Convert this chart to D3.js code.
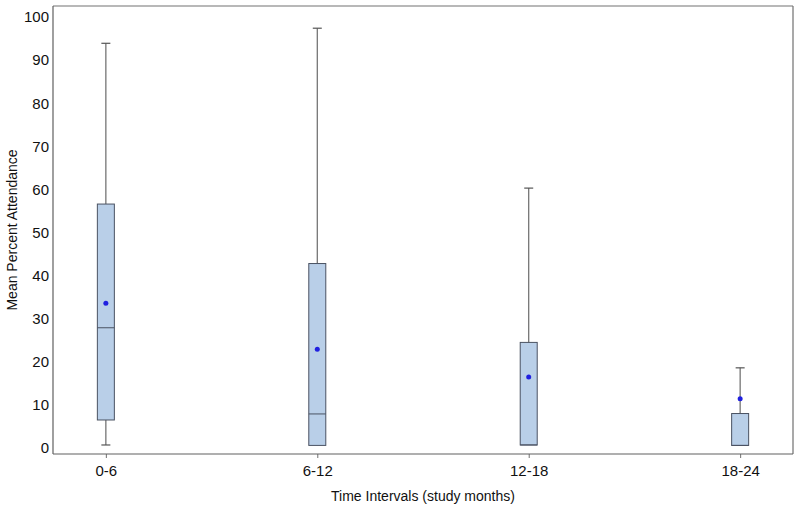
<!DOCTYPE html>
<html>
<head>
<meta charset="utf-8">
<script src="https://cdn.jsdelivr.net/npm/d3@7"></script>
<style>
  body { margin: 0; background: #fff; }
  text { font-family: "Liberation Sans", Arial, sans-serif; fill: #111; }
</style>
</head>
<body>
<svg id="chart" width="800" height="511"></svg>
<script>
// values
var intervals = ["0-6", "6-12", "12-18", "18-24"];
var whiskerLow = [0.7, 0.6, 0.7, 0.6];
var q1 = [6.5, 0.6, 0.7, 0.6];
var median = [27.9, 7.9, 0.7, 0.6];
var q3 = [56.6, 42.8, 24.5, 8.0];
var whiskerHigh = [93.9, 97.4, 60.3, 18.6];
var means = [33.6, 22.9, 16.5, 11.4];
var yTicks = [0, 10, 20, 30, 40, 50, 60, 70, 80, 90, 100];

var svg = d3.select("#chart");
// note: "top" is taken by window.top, so use plot* names
var plotLeft = 53, plotRight = 793, plotTop = 6, plotBottom = 454;

var x = d3.scalePoint().domain(intervals).range([plotLeft, plotRight]).padding(0.25);
// 0 sits a little above the frame bottom
var y = d3.scaleLinear().domain([0, 100]).range([448, 17]);

var boxW = 17, capW = 9;

var rows = intervals.map(function (d, i) {
    return { name: d, lo: whiskerLow[i], q1: q1[i], med: median[i], q3: q3[i], hi: whiskerHigh[i], mean: means[i] };
});

// frame
svg.append("line").attr("x1", plotLeft).attr("x2", plotRight).attr("y1", plotTop).attr("y2", plotTop)
    .style("stroke", "#a0a0a0").style("stroke-width", 1.5);
svg.append("line").attr("x1", plotRight).attr("x2", plotRight).attr("y1", plotTop).attr("y2", plotBottom)
    .style("stroke", "#707070").style("stroke-width", 1.2);

// y axis, no tick marks
var yAxis = svg.append("g").attr("transform", "translate(" + plotLeft + ",0)")
    .call(d3.axisLeft(y).tickValues(yTicks).tickSize(0).tickPadding(4));
yAxis.select(".domain").remove();
yAxis.selectAll("text").style("font-size", "15px").style("fill", "#111")
    .style("font-family", "'Liberation Sans', Arial, sans-serif");
svg.append("line").attr("x1", plotLeft).attr("x2", plotLeft).attr("y1", plotTop).attr("y2", plotBottom)
    .style("stroke", "#606060").style("stroke-width", 1.2);

// x axis
var xAxis = svg.append("g").attr("transform", "translate(0," + plotBottom + ")")
    .call(d3.axisBottom(x).tickSize(4).tickPadding(7));
xAxis.select(".domain").remove();
xAxis.selectAll(".tick line").style("stroke", "#707070");
xAxis.selectAll("text").style("font-size", "15px").style("fill", "#111")
    .style("font-family", "'Liberation Sans', Arial, sans-serif");
svg.append("line").attr("x1", plotLeft).attr("x2", plotRight).attr("y1", plotBottom).attr("y2", plotBottom)
    .style("stroke", "#606060").style("stroke-width", 1.2);

// axis titles
svg.append("text")
    .attr("x", (plotLeft + plotRight) / 2)
    .attr("y", 501)
    .style("text-anchor", "middle")
    .style("font-size", "14px")
    .text("Time Intervals (study months)");

svg.append("text")
    .attr("transform", "translate(17," + (plotTop + plotBottom) / 2 + ") rotate(-90)")
    .style("text-anchor", "middle")
    .style("font-size", "14px")
    .text("Mean Percent Attendance");

// boxes
var g = svg.selectAll(".box").data(rows).enter().append("g").attr("class", "box");

g.append("line")
    .attr("x1", function (d) { return x(d.name); })
    .attr("x2", function (d) { return x(d.name); })
    .attr("y1", function (d) { return y(d.q3); })
    .attr("y2", function (d) { return y(d.hi); })
    .style("stroke", "#6a6a6a").style("stroke-width", 1.2);

g.append("line")
    .attr("x1", function (d) { return x(d.name); })
    .attr("x2", function (d) { return x(d.name); })
    .attr("y1", function (d) { return y(d.q1); })
    .attr("y2", function (d) { return y(d.lo); })
    .style("stroke", "#6a6a6a").style("stroke-width", 1.2);

g.append("line")
    .attr("x1", function (d) { return x(d.name) - capW / 2; })
    .attr("x2", function (d) { return x(d.name) + capW / 2; })
    .attr("y1", function (d) { return y(d.hi); })
    .attr("y2", function (d) { return y(d.hi); })
    .style("stroke", "#555").style("stroke-width", 1.2);

g.filter(function (d) { return d.lo < d.q1; }).append("line")
    .attr("x1", function (d) { return x(d.name) - capW / 2; })
    .attr("x2", function (d) { return x(d.name) + capW / 2; })
    .attr("y1", function (d) { return y(d.lo); })
    .attr("y2", function (d) { return y(d.lo); })
    .style("stroke", "#555").style("stroke-width", 1.2);

g.append("rect")
    .attr("x", function (d) { return x(d.name) - boxW / 2; })
    .attr("width", boxW)
    .attr("y", function (d) { return y(d.q3); })
    .attr("height", function (d) { return y(d.q1) - y(d.q3); })
    .style("fill", "#b9cfe8")
    .style("stroke", "#4a5262").style("stroke-width", 1);

g.append("line")
    .attr("x1", function (d) { return x(d.name) - boxW / 2; })
    .attr("x2", function (d) { return x(d.name) + boxW / 2; })
    .attr("y1", function (d) { return y(d.med); })
    .attr("y2", function (d) { return y(d.med); })
    .style("stroke", "#4a5262").style("stroke-width", 1);

g.append("circle")
    .attr("cx", function (d) { return x(d.name); })
    .attr("cy", function (d) { return y(d.mean); })
    .attr("r", 2.5)
    .style("fill", "#2020e0");
</script>
</body>
</html>
